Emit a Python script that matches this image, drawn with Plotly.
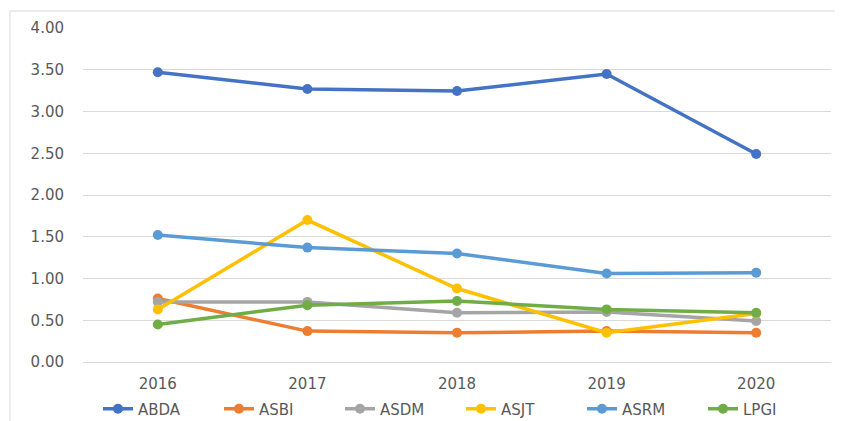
import plotly.graph_objects as go

years = ["2016", "2017", "2018", "2019", "2020"]
ABDA = [3.47, 3.27, 3.245, 3.45, 2.49]
ASBI = [0.76, 0.37, 0.35, 0.37, 0.35]
ASDM = [0.72, 0.72, 0.59, 0.60, 0.49]
ASJT = [0.63, 1.70, 0.88, 0.35, 0.58]
ASRM = [1.52, 1.37, 1.30, 1.06, 1.07]
LPGI = [0.45, 0.68, 0.73, 0.63, 0.59]

series = [
    ("ABDA", ABDA, "#4472C4"),
    ("ASBI", ASBI, "#ED7D31"),
    ("ASDM", ASDM, "#A5A5A5"),
    ("ASJT", ASJT, "#FFC000"),
    ("ASRM", ASRM, "#5B9BD5"),
    ("LPGI", LPGI, "#70AD47"),
]

fig = go.Figure()
for name, vals, col in series:
    fig.add_trace(go.Scatter(
        x=years, y=vals, name=name, mode="lines+markers",
        line=dict(color=col, width=3.5),
        marker=dict(color=col, size=10),
    ))

# page body has an 8px margin, so the figure is offset by 8px
OFF = 8
W, H = 843 - OFF, 421 - OFF
L, R, T, B = 83 - OFF, 12, 28 - OFF, 59
pw = W - L - R
ph = H - T - B

FONT = "DejaVu Sans, Verdana, sans-serif"

fig.update_layout(
    width=W, height=H,
    margin=dict(l=L, r=R, t=T, b=B, autoexpand=False),
    paper_bgcolor="white", plot_bgcolor="white",
    font=dict(family=FONT, size=15, color="#595959"),
    showlegend=True,
    legend=dict(orientation="h", xref="container", x=(461 - OFF) / W, xanchor="center",
                yref="container", y=(H - (409 - OFF)) / H, yanchor="middle",
                font=dict(family=FONT, size=15, color="#595959"),
                entrywidth=76, itemwidth=30, traceorder="normal",
                bgcolor="rgba(0,0,0,0)", tracegroupgap=0),
    xaxis=dict(type="category", range=[-0.5, 4.5], showgrid=False,
               showline=True, linecolor="#d9d9d9", linewidth=1,
               ticks="", ticklabelstandoff=8, fixedrange=True),
    yaxis=dict(range=[0, 4], dtick=0.5, tick0=0, tickformat=".2f",
               showgrid=True, gridcolor="#d9d9d9", gridwidth=1,
               zeroline=False, showline=False, ticks="",
               ticklabelstandoff=18, fixedrange=True),
    shapes=[dict(type="rect", xref="paper", yref="paper",
                 x0=(10 - 83) / pw, x1=(W + 20 - L) / pw,
                 y0=-0.5, y1=(H - B - (11 - OFF)) / ph,
                 line=dict(color="#d9d9d9", width=1), layer="below")],
)

fig.write_html("out.html")
